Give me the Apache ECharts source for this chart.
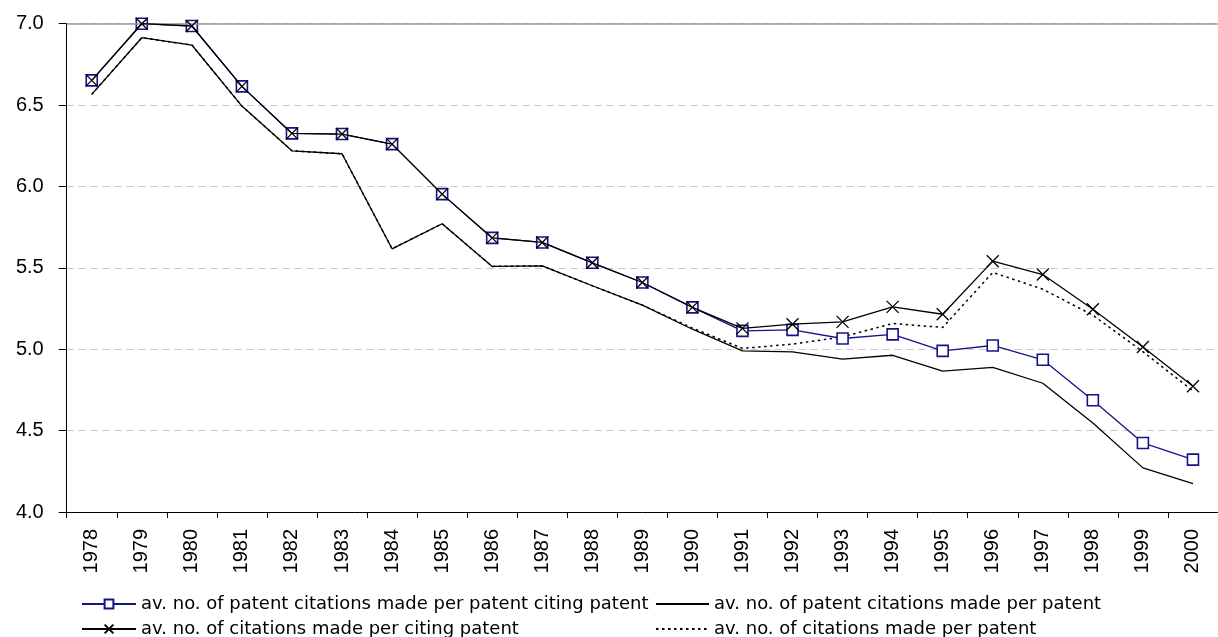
<!DOCTYPE html>
<html>
<head>
<meta charset="utf-8">
<script src="https://cdn.jsdelivr.net/npm/echarts@6/dist/echarts.min.js"></script>
<style>
html,body{margin:0;padding:0;background:#fff;}
#chart{width:1218px;height:637px;}
</style>
</head>
<body>
<div id="chart"></div>
<script>
var years = ['1978','1979','1980','1981','1982','1983','1984','1985','1986','1987','1988','1989','1990','1991','1992','1993','1994','1995','1996','1997','1998','1999','2000'];
var yTicks = [4.0, 4.5, 5.0, 5.5, 6.0, 6.5, 7.0];
var patentPerPatentCiting = [6.652, 7.0, 6.986, 6.615, 6.326, 6.322, 6.260, 5.953, 5.684, 5.656, 5.531, 5.410, 5.257, 5.113, 5.119, 5.066, 5.091, 4.990, 5.023, 4.935, 4.687, 4.424, 4.322];
var patentPerPatent = [6.566, 6.914, 6.869, 6.494, 6.219, 6.201, 5.617, 5.771, 5.509, 5.512, 5.390, 5.271, 5.123, 4.990, 4.984, 4.939, 4.963, 4.865, 4.888, 4.791, 4.547, 4.271, 4.175];
var citationsPerCiting = [6.652, 7.0, 6.986, 6.615, 6.326, 6.322, 6.260, 5.953, 5.684, 5.656, 5.531, 5.410, 5.257, 5.128, 5.154, 5.168, 5.260, 5.215, 5.541, 5.459, 5.246, 5.014, 4.773];
var citationsPerPatent = [6.566, 6.914, 6.869, 6.494, 6.219, 6.201, 5.617, 5.771, 5.509, 5.512, 5.390, 5.271, 5.130, 5.005, 5.031, 5.076, 5.158, 5.134, 5.472, 5.369, 5.209, 4.985, 4.744];

var names = [
  'av. no. of patent citations made per patent citing patent',
  'av. no. of patent citations made per patent',
  'av. no. of citations made per citing patent',
  'av. no. of citations made per patent'
];
var BLUE = '#141488';
var legendText = {fontFamily: 'DejaVu Sans', fontSize: 18, color: '#000'};
function legendAt(item, left, top, w) {
  return {data: [item], left: left, top: top, padding: 0, itemWidth: w, itemHeight: 11, itemGap: 0,
    textStyle: legendText, selectedMode: false};
}

var chart = echarts.init(document.getElementById('chart'), null, {renderer: 'canvas'});
chart.setOption({
  animation: false,
  backgroundColor: '#fff',
  grid: {left: 66.7, right: -12.6, top: 23.7, bottom: 125, containLabel: false},
  legend: [
    legendAt({name: names[0]}, 81, 595, 54),
    legendAt({name: names[1], itemStyle: {opacity: 0}}, 655, 595, 53),
    legendAt({name: names[2]}, 81, 620, 54),
    legendAt({name: names[3], itemStyle: {opacity: 0}}, 655, 620, 53)
  ],
  xAxis: {
    type: 'category',
    data: years,
    boundaryGap: true,
    axisLine: {lineStyle: {color: '#000', width: 1}},
    axisTick: {show: true, length: 6, lineStyle: {color: '#000'}},
    axisLabel: {rotate: 90, margin: 17, fontFamily: 'Liberation Sans', fontSize: 20, color: '#000', interval: 0}
  },
  yAxis: {
    type: 'value',
    min: yTicks[0],
    max: yTicks[yTicks.length - 1],
    interval: 0.5,
    axisLine: {show: true, lineStyle: {color: '#000', width: 1}},
    axisTick: {show: true, length: 8, lineStyle: {color: '#000'}},
    axisLabel: {margin: 23, fontFamily: 'Liberation Sans', fontSize: 20, color: '#000',
      formatter: function (v) { return v.toFixed(1); }},
    splitLine: {show: true, lineStyle: {color: '#c8c8c8', type: [7, 5], width: 1}}
  },
  series: [
    {
      name: names[1], type: 'line', data: patentPerPatent, symbol: 'none', z: 2,
      lineStyle: {color: '#000', width: 1.3}, itemStyle: {color: '#000'},
      markLine: {silent: true, symbol: 'none', label: {show: false},
        lineStyle: {color: '#999', type: 'solid', width: 1.5},
        data: [{yAxis: yTicks[yTicks.length - 1]}]}
    },
    {
      name: names[3], type: 'line', data: citationsPerPatent, symbol: 'none', z: 3,
      lineStyle: {color: '#000', width: 1.5, type: [2.5, 3.5]}, itemStyle: {color: '#000'}
    },
    {
      name: names[0], type: 'line', data: patentPerPatentCiting, symbol: 'rect', symbolSize: 11, z: 4,
      lineStyle: {color: BLUE, width: 1.3},
      itemStyle: {color: '#fff', borderColor: BLUE, borderWidth: 1.6}
    },
    {
      name: names[2], type: 'line', data: citationsPerCiting,
      symbol: 'path://M0,0L10,10M10,0L0,10', symbolSize: 12, z: 5,
      lineStyle: {color: '#000', width: 1.3},
      itemStyle: {color: '#000', borderColor: '#000', borderWidth: 1.3}
    }
  ]
});
</script>
</body>
</html>
